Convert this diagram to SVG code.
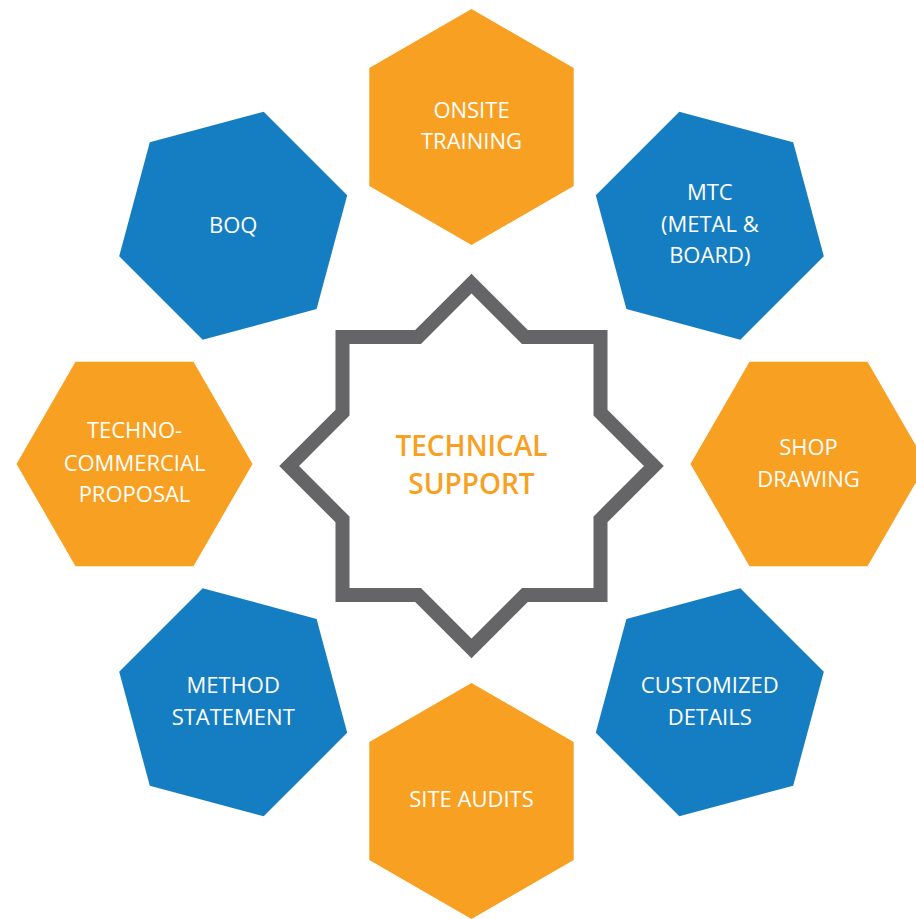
<svg xmlns="http://www.w3.org/2000/svg" width="916" height="919" viewBox="0 0 916 919">
<style>
.orange{fill:#F8A021}
.blue{fill:#157EC2}
.lbl{font-family:"Open Sans","Noto Sans","Liberation Sans",sans-serif;font-size:22px;fill:#FFFFFF;text-anchor:middle}
.center{font-family:"Open Sans","Noto Sans","Liberation Sans",sans-serif;font-size:28px;font-weight:600;fill:#F8A021;text-anchor:middle}
.star{fill:#FFFFFF;stroke:#656567;stroke-width:14;stroke-linejoin:miter;stroke-miterlimit:10}
</style>
<rect width="916" height="919" fill="#FFFFFF"/>
<g id="connectors"></g>
<g id="center-node">
<path class="star" d="M471.5,283.6 L524.9,337 L600.5,337 L600.5,412.6 L653.9,466 L600.5,519.4 L600.5,595 L524.9,595 L471.5,648.4 L418.1,595 L342.5,595 L342.5,519.4 L289.1,466 L342.5,412.6 L342.5,337 L418.1,337 Z"/>
<text class="center" x="471.5" y="455.7">TECHNICAL</text>
<text class="center" x="471.5" y="494">SUPPORT</text>
</g>
<g id="onsite-training">
<polygon class="orange" points="471.5,9 573.7,68 573.7,186 471.5,245 369.3,186 369.3,68"/>
<text class="lbl" x="471.5" y="117.7">ONSITE</text>
<text class="lbl" x="471.5" y="149.3">TRAINING</text>
</g>
<g id="mtc">
<polygon class="blue" points="793.2,142.3 823.8,256.2 740.3,339.7 626.4,309.1 595.8,195.2 679.3,111.7"/>
<text class="lbl" x="709.8" y="200">MTC</text>
<text class="lbl" x="709.8" y="231.7">(METAL &amp;</text>
<text class="lbl" x="709.8" y="263.3">BOARD)</text>
</g>
<g id="shop-drawing">
<polygon class="orange" points="926.5,464 867.5,566.2 749.5,566.2 690.5,464 749.5,361.8 867.5,361.8"/>
<text class="lbl" x="808.5" y="455">SHOP</text>
<text class="lbl" x="808.5" y="486.7">DRAWING</text>
</g>
<g id="customized-details">
<polygon class="blue" points="793.2,785.7 679.3,816.3 595.8,732.8 626.4,618.9 740.3,588.3 823.8,671.8"/>
<text class="lbl" x="709.8" y="692.7">CUSTOMIZED</text>
<text class="lbl" x="709.8" y="725">DETAILS</text>
</g>
<g id="site-audits">
<polygon class="orange" points="471.5,683 573.7,742 573.7,860 471.5,919 369.3,860 369.3,742"/>
<text class="lbl" x="471.5" y="807.3">SITE AUDITS</text>
</g>
<g id="method-statement">
<polygon class="blue" points="149.8,785.7 119.2,671.8 202.7,588.3 316.6,618.9 347.2,732.8 263.7,816.3"/>
<text class="lbl" x="233.2" y="692.7">METHOD</text>
<text class="lbl" x="233.2" y="725">STATEMENT</text>
</g>
<g id="techno-commercial-proposal">
<polygon class="orange" points="252.5,464 193.5,566.2 75.5,566.2 16.5,464 75.5,361.8 193.5,361.8"/>
<text class="lbl" x="134.5" y="438.3">TECHNO-</text>
<text class="lbl" x="134.5" y="470.7">COMMERCIAL</text>
<text class="lbl" x="134.5" y="502.3">PROPOSAL</text>
</g>
<g id="boq">
<polygon class="blue" points="149.8,142.3 263.7,111.7 347.2,195.2 316.6,309.1 202.7,339.7 119.2,256.2"/>
<text class="lbl" x="233.2" y="233">BOQ</text>
</g>
</svg>
